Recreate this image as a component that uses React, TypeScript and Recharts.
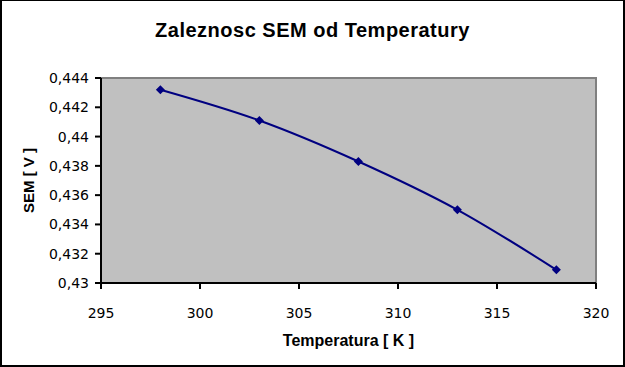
import { LineChart, Line, XAxis, YAxis, ReferenceArea, Label } from 'recharts'

const temperatures = [298, 303, 308, 313, 318]
const semValues = [0.4432, 0.4411, 0.4383, 0.435, 0.4309]
const xTicks = [295, 300, 305, 310, 315, 320]
const yTicks = [0.43, 0.432, 0.434, 0.436, 0.438, 0.44, 0.442, 0.444]

const data = temperatures.map((t, i) => ({ t, sem: semValues[i] }))

const tickStyle = { fontFamily: 'DejaVu Sans', fontSize: 14, fill: '#000' }

const Diamond = (props: any) => {
    const { cx, cy } = props
    if (cx == null || cy == null) return null
    return <polygon points={`${cx},${cy - 4.5} ${cx + 4.5},${cy} ${cx},${cy + 4.5} ${cx - 4.5},${cy}`} fill="#000080" />
}

const YTitle = (props: any) => {
    const { viewBox } = props
    const cy = viewBox.y + viewBox.height / 2
    const cx = 28
    return (
        <text x={cx} y={cy} transform={`rotate(-90 ${cx} ${cy})`} textAnchor="middle" dominantBaseline="central"
            style={{ fontFamily: 'Liberation Sans', fontWeight: 'bold', fontSize: 15 }}>
            SEM [ V ]
        </text>
    )
}

export default function App() {
    return (
        <div style={{ position: 'relative', width: 625, height: 367, background: '#fff' }}>
            <style>{'body{margin:0}'}</style>
            <div style={{ position: 'absolute', top: 30, left: 0, width: 625, textAlign: 'center', fontFamily: 'Liberation Sans', fontWeight: 'bold', fontSize: 20, letterSpacing: 0.5, lineHeight: '1', transform: 'translateY(-50%)', zIndex: 2 }}>
                Zaleznosc SEM od Temperatury
            </div>
            <LineChart width={625} height={367} data={data} margin={{ top: 78, right: 29, bottom: 54, left: 31 }}>
                <ReferenceArea x1={295} x2={320} y1={0.43} y2={0.444} fill="#C0C0C0" fillOpacity={1} stroke="#808080" strokeWidth={2} />
                <XAxis dataKey="t" type="number" domain={[295, 320]} ticks={xTicks} height={30}
                    axisLine={{ stroke: '#000', strokeWidth: 2 }} tickLine={{ stroke: '#000', strokeWidth: 2 }}
                    tickSize={6} tickMargin={19} tick={tickStyle} interval={0}>
                    <Label value="Temperatura [ K ]" position="bottom" offset={22}
                        style={{ fontFamily: 'Liberation Sans', fontWeight: 'bold', fontSize: 16, fill: '#000' }} />
                </XAxis>
                <YAxis type="number" domain={[0.43, 0.444]} ticks={yTicks} width={70} interval={0}
                    axisLine={{ stroke: '#000', strokeWidth: 2 }} tickLine={{ stroke: '#000', strokeWidth: 2 }}
                    tickSize={6} tickMargin={6} tick={tickStyle}
                    tickFormatter={(v: number) => String(v).replace('.', ',')}>
                    <Label content={<YTitle />} />
                </YAxis>
                <Line type="monotone" dataKey="sem" stroke="#000080" strokeWidth={2} dot={<Diamond />} isAnimationActive={false} />
            </LineChart>
            <div style={{ position: 'absolute', inset: 0, borderStyle: 'solid', borderColor: '#000', borderWidth: '1px 2px 2px 2px', pointerEvents: 'none' }} />
        </div>
    )
}
